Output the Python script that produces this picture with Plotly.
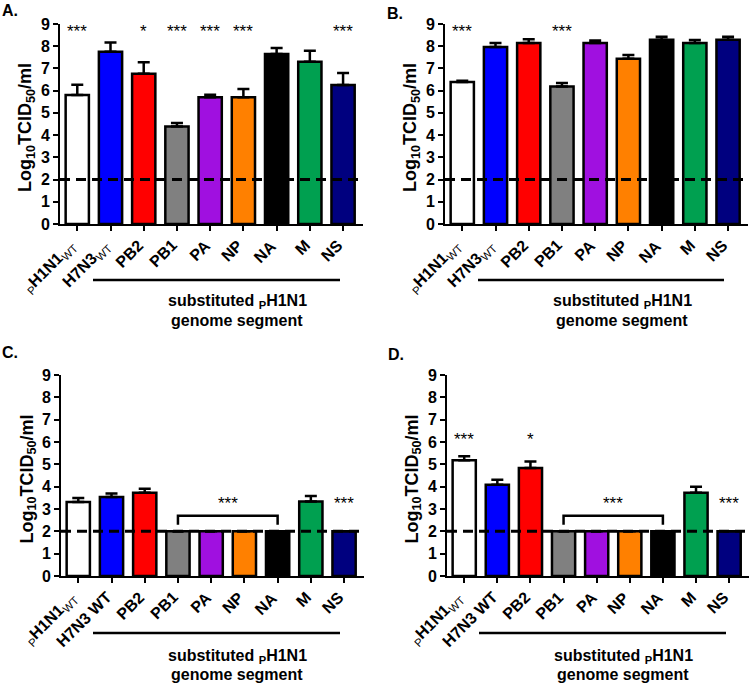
import plotly.graph_objects as go

# ---------------- data ----------------
labels_ab = ["<sub>P</sub><b>H1N1</b><sub>WT</sub>", "<b>H7N3</b><sub>WT</sub>", "<b>PB2</b>", "<b>PB1</b>",
             "<b>PA</b>", "<b>NP</b>", "<b>NA</b>", "<b>M</b>", "<b>NS</b>"]
labels_cd = ["<sub>P</sub><b>H1N1</b><sub>WT</sub>", "<b>H7N3 WT</b>", "<b>PB2</b>", "<b>PB1</b>",
             "<b>PA</b>", "<b>NP</b>", "<b>NA</b>", "<b>M</b>", "<b>NS</b>"]
colors = ["#FFFFFF", "#0000FF", "#FF0000", "#808080", "#A010E0", "#FF8000", "#000000", "#00A050", "#00007F"]
y_ticks = [0, 1, 2, 3, 4, 5, 6, 7, 8, 9]

A_vals = [5.80, 7.75, 6.76, 4.39, 5.70, 5.70, 7.65, 7.30, 6.25]
A_err = [0.47, 0.42, 0.52, 0.15, 0.12, 0.38, 0.27, 0.50, 0.55]
B_vals = [6.39, 7.96, 8.14, 6.19, 8.14, 7.44, 8.29, 8.14, 8.29]
B_err = [0.06, 0.18, 0.17, 0.15, 0.12, 0.17, 0.14, 0.14, 0.14]
C_vals = [3.31, 3.54, 3.73, 2.0, 2.0, 2.0, 2.0, 3.34, 2.0]
C_err = [0.18, 0.15, 0.18, None, None, None, None, 0.24, None]
D_vals = [5.18, 4.09, 4.84, 2.0, 2.0, 2.0, 2.0, 3.73, 2.0]
D_err = [0.18, 0.22, 0.29, None, None, None, None, 0.27, None]

# significance marks: (category index, text, y)
A_stars = [(0, "***", 8.65), (2, "*", 8.65), (3, "***", 8.65), (4, "***", 8.65), (5, "***", 8.65), (8, "***", 8.65)]
B_stars = [(0, "***", 8.65), (3, "***", 8.65)]
C_stars = [(4.5, "***", 3.25), (8, "***", 3.25)]
D_stars = [(0, "***", 6.1), (2, "*", 6.1), (4.5, "***", 3.25), (8, "***", 3.25)]
bracket_from, bracket_to, bracket_low, bracket_high = 3, 6, 2.3, 2.7

limit_of_detection = 2
panel_letters = ["A.", "B.", "C.", "D."]
ytitle = "<b>Log<sub>10</sub>TCID<sub>50</sub>/ml</b>"
group_title_lines = ["<b>substituted <sub>P</sub>H1N1</b>", "<b>genome segment</b>"]

W, H = 750, 683
FONT = "Arial, Liberation Sans, sans-serif"

# panel geometry in pixels
panels = [
    dict(x0=60, x1=363, yb=224, yt=24, vals=A_vals, err=A_err, labels=labels_ab, stars=A_stars, bracket=False,
         letter=(10, 11), ytx=26, line=(93, 340, 280), gt=(237, 302)),
    dict(x0=445, x1=748, yb=224, yt=24, vals=B_vals, err=B_err, labels=labels_ab, stars=B_stars, bracket=False,
         letter=(395, 13), ytx=411, line=(478, 724, 280), gt=(622, 302)),
    dict(x0=61, x1=364, yb=576, yt=375, vals=C_vals, err=C_err, labels=labels_cd, stars=C_stars, bracket=True,
         letter=(10, 352), ytx=28, line=(93, 340, 633), gt=(237, 656)),
    dict(x0=447, x1=749, yb=576, yt=375, vals=D_vals, err=D_err, labels=labels_cd, stars=D_stars, bracket=True,
         letter=(396, 354), ytx=413, line=(479, 726, 633), gt=(623, 656)),
]

def px(x):
    return x / W

def py(y):
    return 1 - y / H

fig = go.Figure()
shapes = []
annotations = []

for i, p in enumerate(panels):
    n = "" if i == 0 else str(i + 1)
    xa, ya = "x" + n, "y" + n
    fig.add_trace(go.Bar(
        x=list(range(len(p["vals"]))), y=p["vals"], xaxis=xa, yaxis=ya,
        marker=dict(color=colors, line=dict(color="black", width=2.5)),
        width=0.7,
        error_y=dict(type="data", symmetric=False, array=p["err"],
                     arrayminus=[0] * len(p["vals"]), color="black", thickness=2.5, width=6),
        showlegend=False, hoverinfo="skip",
    ))
    axcommon = dict(showline=True, linewidth=2, linecolor="black", ticks="outside", ticklen=5,
                    tickwidth=2, tickcolor="black", showgrid=False, zeroline=False, automargin=False)
    fig.update_layout(**{
        "xaxis" + n: dict(domain=[px(p["x0"]), px(p["x1"])], anchor=ya,
                          range=[-0.52, 8.6], tickmode="array", tickvals=list(range(len(p["labels"]))),
                          showticklabels=False, **axcommon),
        "yaxis" + n: dict(domain=[py(p["yb"]), py(p["yt"])], anchor=xa, range=[0, 9],
                          tickmode="array", tickvals=y_ticks, ticktext=[f"<b>{t}</b>" for t in y_ticks],
                          tickfont=dict(family=FONT, size=16, color="black"), **axcommon),
    })
    # category labels, rotated 45 degrees, ending at each tick
    for k, lab in enumerate(p["labels"]):
        annotations.append(dict(x=k, y=0, xref=xa, yref=ya, text=lab, textangle=-45, showarrow=False,
                                xanchor="right", yanchor="top", xshift=6, yshift=-10,
                                font=dict(family=FONT, size=16, color="black")))
    # limit of detection
    shapes.append(dict(type="line", xref=xa + " domain", yref=ya, x0=0, x1=1,
                       y0=limit_of_detection, y1=limit_of_detection,
                       line=dict(color="black", width=3, dash="10px,6px"), layer="above"))
    # bracket
    if p["bracket"]:
        shapes.append(dict(type="path", xref=xa, yref=ya,
                           path=f"M {bracket_from},{bracket_low} L {bracket_from},{bracket_high} "
                                f"L {bracket_to},{bracket_high} L {bracket_to},{bracket_low}",
                           line=dict(color="black", width=2.5)))
    for (cx, txt, yy) in p["stars"]:
        annotations.append(dict(x=cx, y=yy, xref=xa, yref=ya, text=txt, showarrow=False,
                                xanchor="center", yanchor="middle",
                                font=dict(family=FONT, size=17, color="black")))
    # group line under labels
    lx0, lx1, ly = p["line"]
    shapes.append(dict(type="line", xref="paper", yref="paper", x0=px(lx0), x1=px(lx1),
                       y0=py(ly), y1=py(ly), line=dict(color="black", width=2.5)))
    gx, gy = p["gt"]
    for j, line_text in enumerate(group_title_lines):
        annotations.append(dict(x=px(gx), y=py(gy + 18 * j), xref="paper", yref="paper", text=line_text,
                                showarrow=False, align="center", xanchor="center", yanchor="middle",
                                borderpad=0,
                                font=dict(family=FONT, size=16, color="black")))
    # y title
    annotations.append(dict(x=px(p["ytx"]), y=py((p["yb"] + p["yt"]) / 2 + 4), xref="paper", yref="paper",
                            text=ytitle, textangle=-90, showarrow=False, xanchor="center", yanchor="middle",
                            font=dict(family=FONT, size=18, color="black")))
    # panel letter
    lx, ly2 = p["letter"]
    annotations.append(dict(x=px(lx), y=py(ly2), xref="paper", yref="paper", text="<b>" + panel_letters[i] + "</b>",
                            showarrow=False, xanchor="center", yanchor="middle",
                            font=dict(family=FONT, size=16, color="black")))

fig.update_layout(
    width=W, height=H, margin=dict(l=0, r=0, t=0, b=0, autoexpand=False),
    paper_bgcolor="white", plot_bgcolor="white",
    shapes=shapes, annotations=annotations,
)

fig.write_html("out.html", config={"displayModeBar": False},
               post_script="document.body.style.margin='0px';document.body.style.overflow='hidden';")
